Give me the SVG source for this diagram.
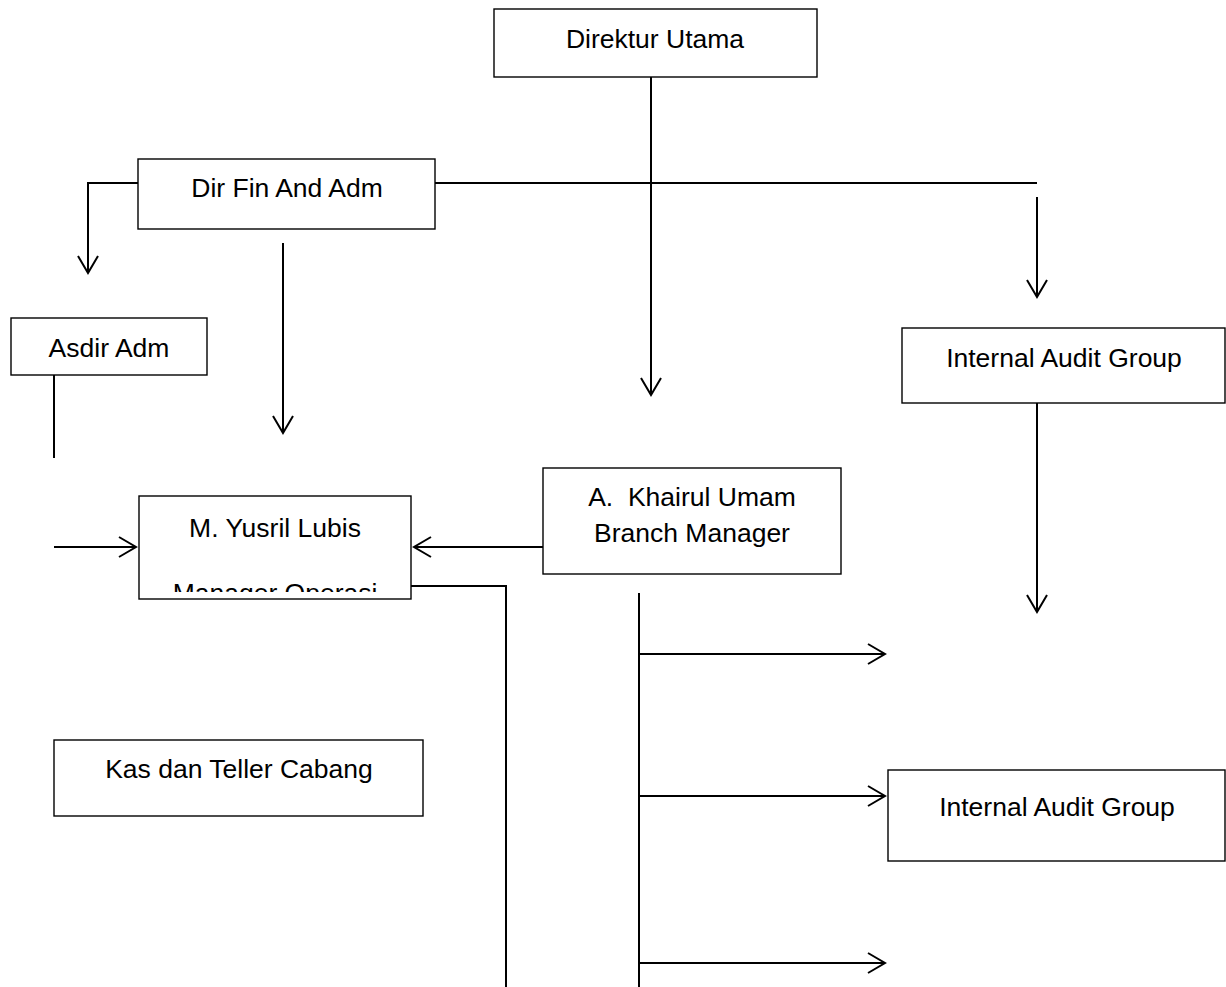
<svg xmlns="http://www.w3.org/2000/svg" width="1226" height="987" viewBox="0 0 1226 987">
<style>
.box{fill:#fff;stroke:#000;stroke-width:1.4}
.lbl{font-family:"Liberation Sans",Arial,sans-serif;font-size:26.5px;fill:#000;text-anchor:middle}
.ln{fill:none;stroke:#000;stroke-width:2}
</style>
<defs>
<marker id="arr" markerUnits="userSpaceOnUse" markerWidth="24" markerHeight="26" refX="20" refY="12" orient="auto" overflow="visible">
<path d="M3,2 L20,12 L3,22" fill="none" stroke="#000" stroke-width="2"/>
</marker>
<clipPath id="clipY"><rect x="139" y="496" width="272" height="96"/></clipPath>
</defs>
<rect width="1226" height="987" fill="#fff"/>
<g id="connectors">
<line class="ln" x1="651" y1="77" x2="651" y2="395" marker-end="url(#arr)"/>
<line class="ln" x1="435" y1="183" x2="1037" y2="183"/>
<polyline class="ln" points="138,183 88,183 88,273" marker-end="url(#arr)"/>
<line class="ln" x1="283" y1="243" x2="283" y2="433" marker-end="url(#arr)"/>
<line class="ln" x1="1037" y1="197" x2="1037" y2="297" marker-end="url(#arr)"/>
<line class="ln" x1="1037" y1="403" x2="1037" y2="612" marker-end="url(#arr)"/>
<line class="ln" x1="54" y1="375" x2="54" y2="458"/>
<line class="ln" x1="54" y1="547" x2="136" y2="547" marker-end="url(#arr)"/>
<line class="ln" x1="543" y1="547" x2="414" y2="547" marker-end="url(#arr)"/>
<polyline class="ln" points="411,586 506,586 506,987"/>
<line class="ln" x1="639" y1="593" x2="639" y2="987"/>
<line class="ln" x1="639" y1="654" x2="885" y2="654" marker-end="url(#arr)"/>
<line class="ln" x1="639" y1="796" x2="885" y2="796" marker-end="url(#arr)"/>
<line class="ln" x1="639" y1="963" x2="885" y2="963" marker-end="url(#arr)"/>
</g>
<g id="direktur-utama">
<rect class="box" x="494" y="9" width="323" height="68"/>
<text class="lbl" x="655" y="48">Direktur Utama</text>
</g>
<g id="dir-fin">
<rect class="box" x="138" y="159" width="297" height="70"/>
<text class="lbl" x="287" y="197">Dir Fin And Adm</text>
</g>
<g id="asdir-adm">
<rect class="box" x="11" y="318" width="196" height="57"/>
<text class="lbl" x="109" y="357">Asdir Adm</text>
</g>
<g id="internal-audit-1">
<rect class="box" x="902" y="328" width="323" height="75"/>
<text class="lbl" x="1064" y="367">Internal Audit Group</text>
</g>
<g id="yusril">
<rect class="box" x="139" y="496" width="272" height="103"/>
<text class="lbl" x="275" y="537">M. Yusril Lubis</text>
<text class="lbl" x="275" y="602" clip-path="url(#clipY)">Manager Operasi</text>
</g>
<g id="khairul">
<rect class="box" x="543" y="468" width="298" height="106"/>
<text class="lbl" x="692" y="506" xml:space="preserve">A.  Khairul Umam</text>
<text class="lbl" x="692" y="542">Branch Manager</text>
</g>
<g id="kas-teller">
<rect class="box" x="54" y="740" width="369" height="76"/>
<text class="lbl" x="239" y="778">Kas dan Teller Cabang</text>
</g>
<g id="internal-audit-2">
<rect class="box" x="888" y="770" width="337" height="91"/>
<text class="lbl" x="1057" y="816">Internal Audit Group</text>
</g>
</svg>
